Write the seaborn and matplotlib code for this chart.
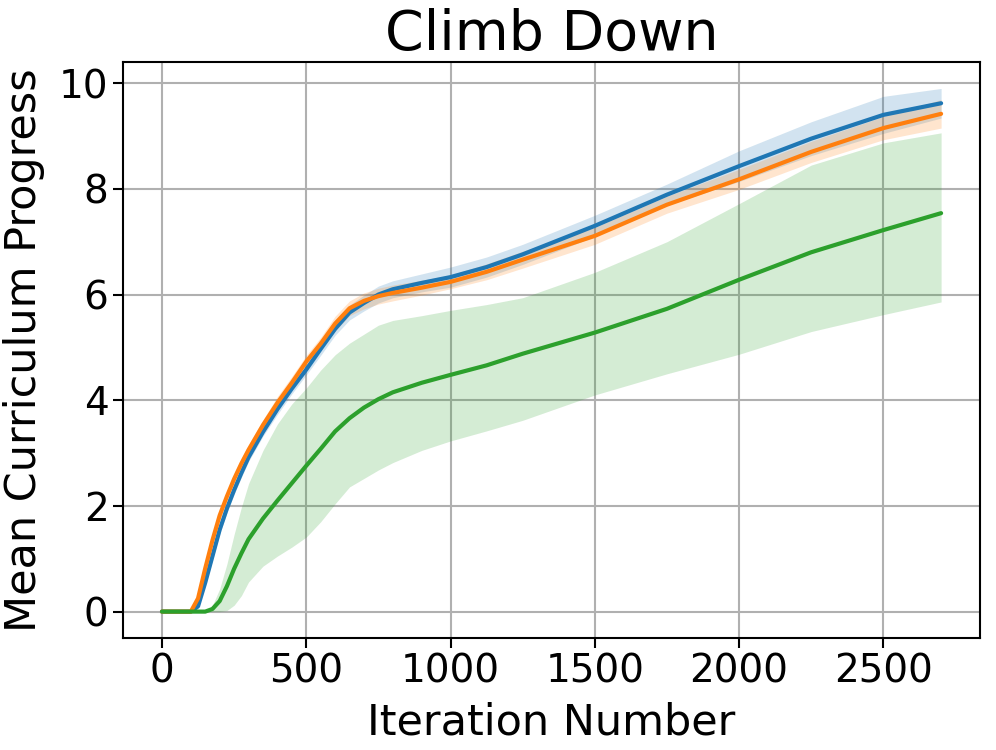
import numpy as np
import pandas as pd
import matplotlib
matplotlib.use("Agg")
import matplotlib.pyplot as plt
import seaborn as sns

# iteration grid
iters = [0, 50, 100, 125, 150, 175, 200, 225, 250, 275, 300, 350, 400, 450, 500,
         550, 600, 650, 700, 750, 800, 900, 1000, 1125, 1250, 1500, 1750, 2000,
         2250, 2500, 2700]

# blue run
blue_mean = [0, 0, 0, 0.1, 0.55, 1.05, 1.55, 1.95, 2.3, 2.62, 2.92, 3.4, 3.83, 4.22, 4.58,
             4.97, 5.35, 5.66, 5.84, 6.0, 6.1, 6.22, 6.33, 6.52, 6.76, 7.30, 7.89, 8.43,
             8.95, 9.40, 9.62]
blue_lo = [0, 0, 0, 0.07, 0.49, 0.97, 1.47, 1.87, 2.22, 2.54, 2.84, 3.32, 3.73, 4.12, 4.48,
           4.85, 5.23, 5.52, 5.69, 5.84, 5.94, 6.05, 6.14, 6.33, 6.57, 7.10, 7.69, 8.14,
           8.63, 9.05, 9.34]
blue_hi = [0, 0, 0, 0.13, 0.61, 1.13, 1.63, 2.03, 2.38, 2.70, 3.00, 3.48, 3.93, 4.32, 4.68,
           5.09, 5.47, 5.80, 5.99, 6.16, 6.26, 6.39, 6.52, 6.71, 6.95, 7.50, 8.09, 8.72,
           9.27, 9.75, 9.90]

# orange run
orange_mean = [0, 0, 0, 0.25, 0.82, 1.35, 1.82, 2.18, 2.51, 2.80, 3.06, 3.53, 3.95, 4.33, 4.73,
               5.07, 5.45, 5.74, 5.88, 5.97, 6.03, 6.13, 6.24, 6.43, 6.66, 7.11, 7.70, 8.18,
               8.70, 9.15, 9.42]
orange_lo = [0, 0, 0, 0.21, 0.74, 1.25, 1.72, 2.08, 2.41, 2.70, 2.96, 3.43, 3.83, 4.21, 4.61,
             4.95, 5.31, 5.60, 5.73, 5.82, 5.88, 5.99, 6.11, 6.28, 6.50, 6.95, 7.54, 7.99,
             8.50, 8.93, 9.15]
orange_hi = [0, 0, 0, 0.29, 0.90, 1.45, 1.92, 2.28, 2.61, 2.90, 3.16, 3.63, 4.07, 4.45, 4.85,
             5.19, 5.59, 5.88, 6.03, 6.12, 6.18, 6.27, 6.37, 6.58, 6.82, 7.27, 7.86, 8.37,
             8.90, 9.37, 9.69]

# green run
green_mean = [0, 0, 0, 0, 0, 0.05, 0.2, 0.48, 0.81, 1.1, 1.37, 1.76, 2.1, 2.43, 2.76,
              3.08, 3.41, 3.66, 3.86, 4.02, 4.15, 4.33, 4.48, 4.66, 4.88, 5.28, 5.73, 6.28,
              6.8, 7.22, 7.54]
green_lo = [0, 0, 0, 0, 0, 0, 0, 0.02, 0.12, 0.3, 0.56, 0.86, 1.05, 1.22, 1.41,
            1.7, 2.04, 2.36, 2.52, 2.68, 2.82, 3.05, 3.23, 3.42, 3.62, 4.1, 4.5, 4.87,
            5.3, 5.62, 5.86]
green_hi = [0, 0, 0, 0, 0, 0.12, 0.43, 0.9, 1.46, 1.97, 2.42, 3.05, 3.55, 3.93, 4.23,
            4.57, 4.86, 5.08, 5.25, 5.42, 5.51, 5.60, 5.70, 5.81, 5.94, 6.42, 7.0, 7.72,
            8.45, 8.87, 9.06]

runs = ["blue", "orange", "green"]
colors = ["#1f77b4", "#ff7f0e", "#2ca02c"]

sns.set_style("ticks", {"axes.grid": True, "grid.color": "#b0b0b0",
                        "axes.edgecolor": "black", "text.color": "black",
                        "axes.labelcolor": "black", "xtick.color": "black",
                        "ytick.color": "black"})
plt.rcParams["font.family"] = ["DejaVu Sans"]

df = pd.DataFrame({
    "Iteration Number": iters * 3,
    "Mean Curriculum Progress": blue_mean + orange_mean + green_mean,
    "run": [r for r in runs for _ in iters],
})
bands = {"blue": (blue_lo, blue_hi), "orange": (orange_lo, orange_hi),
         "green": (green_lo, green_hi)}

fig = plt.figure(figsize=(9.96, 7.5), dpi=100)
ax = fig.add_axes([0.1235, 0.1493, 0.8605, 0.768])

for run, c in zip(runs, colors):
    lo, hi = bands[run]
    ax.fill_between(iters, lo, hi, color=c, alpha=0.2, linewidth=0)

sns.lineplot(data=df, x="Iteration Number", y="Mean Curriculum Progress",
             hue="run", palette=colors, linewidth=3, legend=False, ax=ax)

ax.set_xlim(-135, 2835)
ax.set_ylim(-0.5, 10.4)
ax.set_xticks([0, 500, 1000, 1500, 2000, 2500])
ax.set_yticks([0, 2, 4, 6, 8, 10])
ax.grid(True, color="#b0b0b0", linewidth=1.5)
for s in ax.spines.values():
    s.set_linewidth(1.5)
    s.set_color("black")
ax.tick_params(labelsize=28, width=1.5, length=7, color="black", labelcolor="black")
ax.set_xlabel("Iteration Number", fontsize=31, labelpad=8, color="black")
ax.set_ylabel("Mean Curriculum Progress", fontsize=31, labelpad=10, color="black")
ax.set_title("Climb Down", fontsize=40, pad=8, color="black")

fig.savefig("out.png", dpi=100)
